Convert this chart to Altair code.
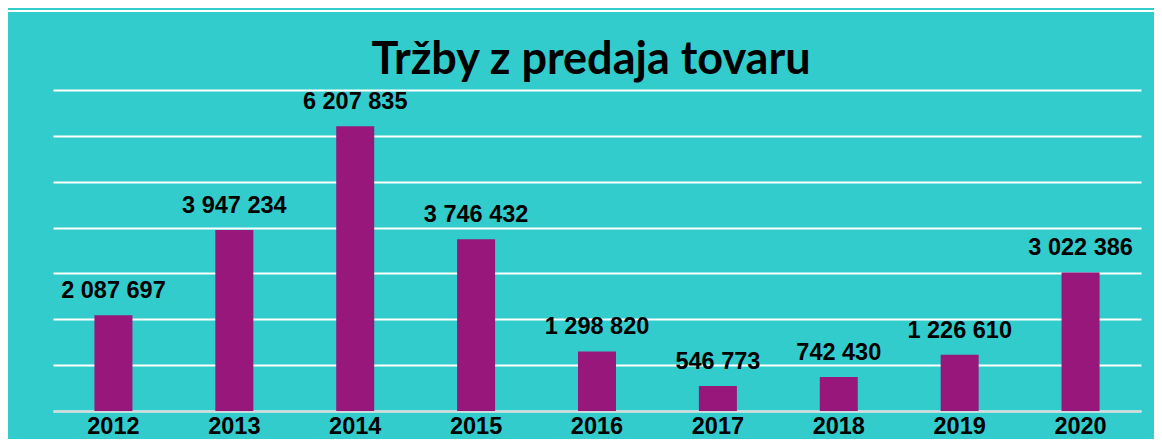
import altair as alt
import pandas as pd

years = ["2012", "2013", "2014", "2015", "2016", "2017", "2018", "2019", "2020"]
sales = [2087697, 3947234, 6207835, 3746432, 1298820, 546773, 742430, 1226610, 3022386]
y_ticks = [0, 1000000, 2000000, 3000000, 4000000, 5000000, 6000000, 7000000]
labels = [f"{v:,}".replace(",", " ") for v in sales]

df = pd.DataFrame({"year": years, "sales": sales, "label": labels})

W, H = 1088, 321
PAD = {"left": 45, "top": 82, "right": 13, "bottom": 28}

x = alt.X(
    "year:N", sort=years, title=None,
    scale=alt.Scale(paddingInner=0, paddingOuter=0),
    axis=alt.Axis(labelAngle=0, labelFont="Liberation Sans", labelFontWeight="bold",
                  labelFontSize=23.5, labelColor="black", labelPadding=22,
                  labelBaseline="alphabetic", ticks=False, domainColor="#D9D9D9",
                  domainWidth=2, grid=False),
)
y = alt.Y(
    "sales:Q", title=None,
    scale=alt.Scale(domain=[0, 7000000], nice=False),
    axis=alt.Axis(labels=False, ticks=False, domain=False, grid=True,
                  gridColor="white", gridWidth=2, values=y_ticks),
)

base = alt.Chart(df)
bars = base.mark_bar(size=38, color="#97177A").encode(x=x, y=y)
text = base.mark_text(dy=-17, baseline="alphabetic", font="Liberation Sans",
                      fontWeight="bold", fontSize=23.5, color="black").encode(
    x=x, y=y, text="label:N")

frame_df = pd.DataFrame({"k": [0]})
top_rule = alt.Chart(frame_df).mark_rule(color="white", strokeWidth=2).encode(
    x=alt.value(-45), x2=alt.value(W + 13), y=alt.value(-79))

chart = alt.layer(bars, text, top_rule).properties(
    width=W, height=H,
    title=alt.Title("Tržby z predaja tovaru", font="Lato", fontSize=45,
                    fontWeight="bold", color="black", anchor="middle",
                    baseline="alphabetic", offset=0, dy=109, dx=-6),
    padding=PAD,
    autosize=alt.AutoSizeParams(type="none"),
    background="#33CCCC",
).configure_view(stroke=None)

chart.save("out.html", embed_options={"renderer": "svg", "actions": False})
